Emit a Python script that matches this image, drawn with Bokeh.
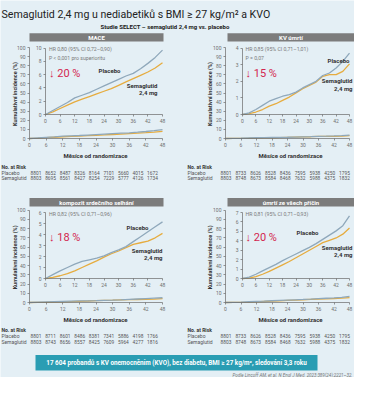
from bokeh.plotting import figure
from bokeh.models import Range1d, LinearAxis, FixedTicker, Label, ColumnDataSource
from bokeh.embed import file_html
from bokeh.resources import INLINE
from bokeh.core.properties import value

# ---------------- data ----------------
months = [0, 3, 6, 9, 12, 15, 18, 21, 24, 27, 30, 33, 36, 39, 42, 45, 48]
tick_months = [0, 6, 12, 18, 24, 30, 36, 42, 48]
outer_ticks = [0, 10, 20, 30, 40, 50, 60, 70, 80, 90, 100]

mace_placebo = [0, 0.6, 1.2, 1.8, 2.5, 2.9, 3.3, 3.8, 4.3, 4.8, 5.3, 5.8, 6.2, 6.9, 7.7, 8.6, 9.7]
mace_sema = [0, 0.4, 0.9, 1.4, 1.9, 2.3, 2.7, 3.1, 3.5, 3.9, 4.4, 4.9, 5.4, 5.9, 6.4, 7.0, 7.8]
cvd_placebo = [0, 0.1, 0.3, 0.55, 0.8, 0.95, 1.1, 1.2, 1.35, 1.6, 1.8, 2.0, 2.35, 2.5, 2.8, 3.2, 3.7]
cvd_sema = [0, 0.05, 0.15, 0.3, 0.5, 0.65, 0.85, 1.05, 1.3, 1.55, 1.75, 1.95, 2.3, 2.4, 2.4, 2.6, 3.05]
hf_placebo = [0, 0.35, 0.7, 1.0, 1.3, 1.55, 1.7, 1.85, 2.05, 2.35, 2.6, 2.9, 3.35, 3.8, 4.25, 4.7, 5.15]
hf_sema = [0, 0.1, 0.25, 0.45, 0.7, 1.0, 1.3, 1.6, 1.95, 2.25, 2.5, 2.8, 3.1, 3.25, 3.4, 3.7, 4.1]
death_placebo = [0, 0.15, 0.45, 0.8, 1.15, 1.5, 1.9, 2.25, 2.6, 2.95, 3.3, 3.7, 4.15, 4.6, 5.05, 5.6, 6.65]
death_sema = [0, 0.05, 0.2, 0.45, 0.75, 1.1, 1.45, 1.8, 2.2, 2.6, 3.0, 3.4, 3.8, 4.05, 4.3, 4.7, 5.35]

inset_ticks_mace = [0, 2, 4, 6, 8, 10]
inset_ticks_cvd = [0, 1, 2, 3, 4]
inset_ticks_hf = [0, 1, 2, 3, 4, 5, 6]
inset_ticks_death = [0, 1, 2, 3, 4, 5, 6, 7]

risk_mace_placebo = [8801, 8652, 8487, 8326, 8164, 7101, 5660, 4015, 1672]
risk_mace_sema = [8803, 8695, 8561, 8427, 8254, 7229, 5777, 4126, 1734]
risk_cvd_placebo = [8801, 8733, 8626, 8528, 8436, 7595, 5938, 4250, 1795]
risk_cvd_sema = [8803, 8748, 8673, 8584, 8468, 7632, 5988, 4375, 1832]
risk_hf_placebo = [8801, 8711, 8601, 8486, 8381, 7341, 5886, 4198, 1766]
risk_hf_sema = [8803, 8743, 8656, 8557, 8425, 7609, 5964, 4277, 1816]
risk_death_placebo = [8801, 8733, 8626, 8528, 8436, 7595, 5938, 4250, 1795]
risk_death_sema = [8803, 8748, 8673, 8584, 8468, 7632, 5988, 4375, 1832]

titles = ["MACE", "KV úmrtí", "kompozit srdečního selhání", "úmrtí ze všech příčin"]
hr_texts = [["HR 0,80 (95% CI 0,72–0,90)", "P < 0,001 pro superioritu"],
            ["HR 0,85 (95% CI 0,71–1,01)", "P = 0,07"],
            ["HR 0,82 (95% CI 0,71–0,96)"],
            ["HR 0,81 (95% CI 0,71–0,93)"]]
reductions = ["↓ 20 %", "↓ 15 %", "↓ 18 %", "↓ 20 %"]

# ---------------- style ----------------
BG = "#e4eff5"
AX = "#6a6a6a"
C_PLA = "#8fa8bb"
C_SEMA = "#e6ac3f"
RED = "#d3264f"
HEAD = "#7c7c7c"
TEAL = "#2a9db3"
FONT = "Roboto"

FX0, FX1, FY0, FY1 = 8, 362, 8, 385   # frame in reference pixels


def xmap(v0, p0, v1, p1):
    s = (p1 - p0) / (v1 - v0)
    return Range1d(start=v0 - (p0 - FX0) / s, end=v0 + (FX1 - p0) / s)


def ymap(v0, q0, v1, q1):
    s = (q0 - q1) / (v1 - v0)
    return Range1d(start=v0 - (FY1 - q0) / s, end=v0 + (q0 - FY0) / s)


p = figure(width=FX1 - FX0, height=FY1 - FY0,
           x_range=Range1d(FX0, FX1), y_range=Range1d(FY1, FY0),
           output_backend="svg", toolbar_location=None,
           x_axis_type=None, y_axis_type=None, min_border=0,
           background_fill_color=BG, border_fill_color=BG, outline_line_color=None)


def label(x, y, text, size="5px", color="#333333", align="left", bold=False, angle=0,
          baseline="middle", italic=False, font=FONT):
    style = "bold" if bold else ("italic" if italic else "normal")
    p.add_layout(Label(x=x, y=y, text=text, text_font_size=size, text_color=color,
                       text_align=align, text_baseline=baseline, text_font_style=style,
                       angle=angle, angle_units="deg", text_font=font))


def style_axis(ax):
    ax.axis_line_color = AX
    ax.axis_line_width = 0.7
    ax.major_tick_line_color = AX
    ax.major_tick_line_width = 0.7
    ax.major_tick_in = 0
    ax.major_tick_out = 2
    ax.minor_tick_line_color = None
    ax.major_label_text_font_size = "5px"
    ax.major_label_text_color = "#707070"
    ax.major_label_text_font = FONT
    ax.major_label_standoff = 2


def add_axes(xn, yn, ymax, yticks):
    ya = LinearAxis(x_range_name=xn, y_range_name=yn, fixed_location=0, bounds=(0, ymax),
                    ticker=FixedTicker(ticks=yticks))
    style_axis(ya)
    p.add_layout(ya, "left")
    xa = LinearAxis(x_range_name=xn, y_range_name=yn, fixed_location=0, bounds=(0, 48),
                    ticker=FixedTicker(ticks=tick_months))
    style_axis(xa)
    p.add_layout(xa, "below")


# ---------------- header ----------------
label(9, 22, "Semaglutid 2,4 mg u nediabetiků s BMI ≥ 27 kg/m² a KVO", size="10.6px",
      color="#222222", baseline="alphabetic")
label(172.5, 33.5, "Studie SELECT – semaglutid 2,4 mg vs. placebo", size="6px", bold=True,
      color="#222222", align="center")

geo = [
    dict(ox=(37, 170), ix=(53, 170), tx=(43.5, 160), oy=(146, 55), iy=(122, 55.6),
         bar=(37, 171, 40.7, 49), ylab=22, xlab=103, off=0, lx=9),
    dict(ox=(233, 357), ix=(250, 357), tx=(233.5, 352), oy=(146, 55), iy=(122, 55.6),
         bar=(235, 362, 40.7, 49), ylab=217.5, xlab=298, off=0, lx=195),
    dict(ox=(37, 170), ix=(53, 170), tx=(43.5, 160), oy=(310, 217.7), iy=(286, 220),
         bar=(37, 171, 205.5, 214), ylab=22, xlab=103, off=164, lx=9),
    dict(ox=(233, 357), ix=(250, 357), tx=(233.5, 352), oy=(310, 217.7), iy=(286, 220),
         bar=(235, 362, 205.5, 214), ylab=217.5, xlab=298, off=164, lx=195),
]
series = [(mace_placebo, mace_sema, 10, inset_ticks_mace, risk_mace_placebo, risk_mace_sema),
          (cvd_placebo, cvd_sema, 4, inset_ticks_cvd, risk_cvd_placebo, risk_cvd_sema),
          (hf_placebo, hf_sema, 6, inset_ticks_hf, risk_hf_placebo, risk_hf_sema),
          (death_placebo, death_sema, 7, inset_ticks_death, risk_death_placebo, risk_death_sema)]

ann = [
    dict(hr=(56.5, 56.7), red=(56.5, 80.5), pla=(117, 78.3), sem=(165, 92.7)),
    dict(hr=(253, 56.7), red=(253, 80.5), pla=(346, 68.3), sem=(360, 88.3)),
    dict(hr=(56.5, 221), red=(56.5, 244.5), pla=(145, 235), sem=(170, 257.7)),
    dict(hr=(253, 221), red=(253, 245), pla=(315, 240), sem=(360, 255)),
]

for k in range(4):
    g, (pla, sem, imax, iticks, rp, rs) = geo[k], series[k]
    a = ann[k]
    ox, oy, ix, iy, tx = f"ox{k}", f"oy{k}", f"ix{k}", f"iy{k}", f"tx{k}"
    p.extra_x_ranges[ox] = xmap(0, g["ox"][0], 48, g["ox"][1])
    p.extra_y_ranges[oy] = ymap(0, g["oy"][0], 100, g["oy"][1])
    p.extra_x_ranges[ix] = xmap(0, g["ix"][0], 48, g["ix"][1])
    p.extra_y_ranges[iy] = ymap(0, g["iy"][0], imax, g["iy"][1])
    p.extra_x_ranges[tx] = xmap(0, g["tx"][0], 48, g["tx"][1])

    # header bar
    l, r, t, b = g["bar"]
    p.quad(left=[l], right=[r], top=[t], bottom=[b], fill_color=HEAD, line_color=None)
    label((l + r) / 2, (t + b) / 2 + 0.3, titles[k], size="6px", bold=True,
          color="white", align="center")

    # axes
    add_axes(ox, oy, 100, outer_ticks)
    add_axes(ix, iy, imax, iticks)

    # curves: outer (full scale) and inset (zoomed)
    for xn, yn in ((ox, oy), (ix, iy)):
        p.line(months, sem, x_range_name=xn, y_range_name=yn, line_color=C_SEMA, line_width=1.3)
        p.line(months, pla, x_range_name=xn, y_range_name=yn, line_color=C_PLA, line_width=1.3)

    # axis titles
    label(g["ylab"], (g["oy"][0] + g["oy"][1]) / 2 + 1, "Kumulativní incidence (%)", size="5.5px",
          bold=True, angle=90, align="center")
    label(g["xlab"], g["oy"][0] + 17, "Měsíce od randomizace", size="6px", bold=True,
          align="center")

    # annotations
    for j, txt in enumerate(hr_texts[k]):
        label(a["hr"][0], a["hr"][1] + 8.3 * j, txt, size="5.2px", color="#7a7a7a")
    label(a["red"][0], a["red"][1], reductions[k], size="11px", color=RED)
    label(a["pla"][0], a["pla"][1], "Placebo", size="6px", bold=True, align="center")
    label(a["sem"][0], a["sem"][1], "Semaglutid", size="6px", bold=True, align="right")
    label(a["sem"][0], a["sem"][1] + 7.2, "2,4 mg", size="6px", bold=True, align="right")

    # number at risk table
    base = 174 + g["off"] - (0.5 if k >= 2 else 0)
    lx = g["lx"]
    label(lx, base, "No. at Risk", size="5px", bold=True)
    label(lx, base + 6, "Placebo", size="5px", color="#555555")
    label(lx, base + 11.5, "Semaglutid", size="5px", color="#555555")
    src = ColumnDataSource(dict(x=tick_months * 2,
                                y=[base + 6] * 9 + [base + 11.5] * 9,
                                t=[str(v) for v in rp] + [str(v) for v in rs]))
    p.text(x="x", y="y", text="t", source=src, x_range_name=tx,
           text_font_size="4.8px", text_align="center", text_baseline="middle",
           text_color="#555555", text_font=value(FONT))

# ---------------- footer ----------------
p.quad(left=[43], right=[325], top=[362.5], bottom=[378], fill_color=TEAL, line_color=None)
label(184, 370.5, "17 604 probandů s KV onemocněním (KVO), bez diabetu, BMI ≥ 27 kg/m², sledování 3,3 roku",
      size="6.3px", bold=True, color="white", align="center")
label(360, 383, "Podle Lincoff AM, et al. N Engl J Med. 2023;389(24):2221–32.", size="4.5px",
      italic=True, color="#777777", align="right")

open("out.html", "w").write(file_html(p, INLINE))
